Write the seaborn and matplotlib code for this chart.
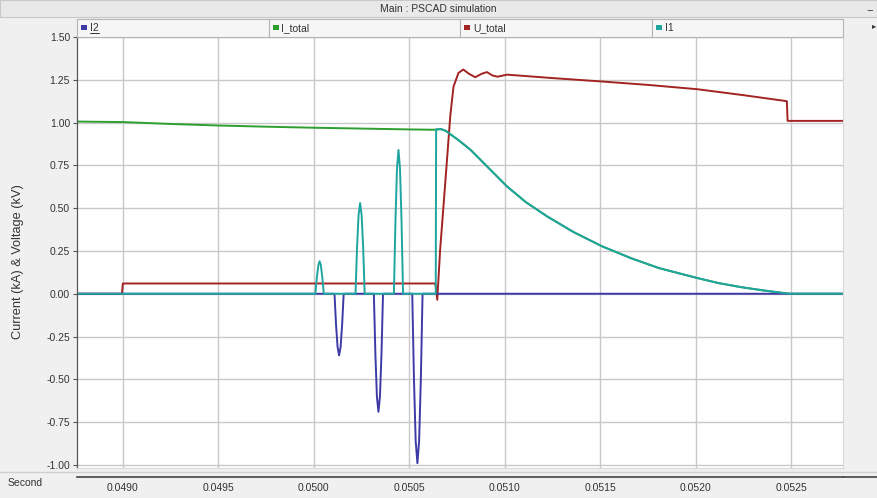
import matplotlib
matplotlib.use('Agg')
import matplotlib.pyplot as plt
import seaborn as sns
from matplotlib.patches import Rectangle
from matplotlib.lines import Line2D

# Dados (tempo em s, corrente em kA, tensão em kV)
t_decay = [0.050640, 0.050665, 0.050690, 0.050705, 0.050760, 0.050819, 0.050910,
           0.051011, 0.051110, 0.051221, 0.051360, 0.051509, 0.051660, 0.051806,
           0.052007, 0.052120, 0.052234, 0.052350, 0.052461, 0.052490]
v_decay = [0.960, 0.962, 0.952, 0.940, 0.895, 0.842, 0.740, 0.627, 0.535, 0.452,
           0.360, 0.277, 0.208, 0.150, 0.092, 0.062, 0.039, 0.020, 0.004, 0.0]

t_i1 = [0.04876, 0.050008, 0.050016, 0.050024, 0.050030, 0.050036, 0.050044, 0.050052,
        0.050218, 0.050226, 0.050234, 0.050242, 0.050250, 0.050258, 0.050266,
        0.050419, 0.050427, 0.050435, 0.050443, 0.050451, 0.050459, 0.050467,
        0.050638]
i1 = [0, 0, 0.10, 0.17, 0.19, 0.17, 0.10, 0,
      0, 0.27, 0.46, 0.53, 0.46, 0.27, 0,
      0, 0.42, 0.73, 0.84, 0.73, 0.42, 0,
      0]

t_itotal = [0.04876, 0.04900, 0.04925, 0.04950, 0.04975, 0.05000, 0.05025, 0.05050, 0.050638]
i_total = [1.006, 1.003, 0.992, 0.983, 0.976, 0.970, 0.965, 0.960, 0.958]

t_i2 = [0.04876, 0.050108, 0.050116, 0.050124, 0.050132, 0.050140, 0.050148, 0.050156,
        0.050314, 0.050322, 0.050330, 0.050338, 0.050346, 0.050354, 0.050362,
        0.050515, 0.050524, 0.050533, 0.050542, 0.050551, 0.050560, 0.050569,
        0.05277]
i2 = [0, 0, -0.18, -0.31, -0.36, -0.31, -0.18, 0,
      0, -0.35, -0.60, -0.69, -0.60, -0.35, 0,
      0, -0.50, -0.86, -0.99, -0.86, -0.50, 0,
      0]

t_u = [0.04876, 0.048995, 0.04900, 0.050636, 0.050646, 0.050661, 0.050688, 0.050714,
       0.050731, 0.050757, 0.050782, 0.050812, 0.050845, 0.050878, 0.050906, 0.050935,
       0.050962, 0.051011, 0.051250, 0.051509, 0.051750, 0.052007, 0.052250, 0.052476,
       0.052480, 0.05277]
u_total = [0, 0, 0.06, 0.06, -0.035, 0.257, 0.65, 1.037,
           1.21, 1.29, 1.31, 1.285, 1.265, 1.285, 1.295, 1.275,
           1.268, 1.28, 1.26, 1.24, 1.22, 1.195, 1.16, 1.125,
           1.01, 1.01]

t_tail = [0.05277]
v_tail = [0.0]

nomes = ['I2', 'I_total', 'U_total', 'I1']
cores = {'I2': '#3d3aa6', 'I_total': '#2e9e2e', 'U_total': '#a32222', 'I1': '#1fa5a0'}
yticks = [-1.00, -0.75, -0.50, -0.25, 0.00, 0.25, 0.50, 0.75, 1.00, 1.25, 1.50]
xticks = [0.0490, 0.0495, 0.0500, 0.0505, 0.0510, 0.0515, 0.0520, 0.0525]

# Estilo
sns.set_theme(style="whitegrid")
plt.rcParams['font.family'] = ['Liberation Sans', 'DejaVu Sans']

W, H = 877, 498
fig = plt.figure(figsize=(W / 100, H / 100), dpi=100)
fig.patch.set_facecolor('#f0f0f0')


def fx(x):
    return x / W


def fy(y):
    return 1 - y / H


# Eixo principal
L, R, T, B = 77, 843, 37, 468
ax = fig.add_axes([fx(L), fy(B), fx(R - L), fy(T) - fy(B)])
ax.set_facecolor('white')

sns.lineplot(x=t_itotal + t_decay + t_tail, y=i_total + v_decay + v_tail, ax=ax,
             color=cores['I_total'], lw=1.4, estimator=None, sort=False)
sns.lineplot(x=t_u, y=u_total, ax=ax, color=cores['U_total'], lw=1.4,
             estimator=None, sort=False)
sns.lineplot(x=t_i2, y=i2, ax=ax, color=cores['I2'], lw=1.4,
             estimator=None, sort=False)
sns.lineplot(x=t_i1 + t_decay + t_tail, y=i1 + v_decay + v_tail, ax=ax,
             color=cores['I1'], lw=1.4, estimator=None, sort=False)

ax.set_xlim(0.04876, 0.05277)
ax.set_ylim(-1.018, 1.5)
ax.set_xticks(xticks)
ax.set_yticks(yticks)
ax.set_yticklabels([f'{v:.2f}' for v in yticks], fontsize=7.5, color='#333333')
ax.tick_params(axis='x', labelbottom=False, length=0)
ax.tick_params(axis='y', length=3, width=0.8, color='#555555', pad=2, left=True)
ax.grid(True, color='#c8c8c8', lw=1)
for lado in ['top', 'right', 'bottom']:
    ax.spines[lado].set_color('#d8d8d8')
    ax.spines[lado].set_linewidth(0.8)
ax.spines['left'].set_color('#555555')
ax.spines['left'].set_linewidth(0.9)
ax.set_xlabel('')
ax.set_ylabel('Current (kA) & Voltage (kV)', fontsize=9.2, color='#333333')
ax.yaxis.set_label_coords((24 - L) / (R - L), (B - 262) / (B - T))

# Eixo do tempo (faixa inferior)
ax2 = fig.add_axes([fx(L), fy(477), fx(R - L), 0.001])
ax2.set_facecolor('none')
ax2.set_xlim(ax.get_xlim())
ax2.set_xticks(xticks)
ax2.set_xticklabels([f'{v:.4f}' for v in xticks], fontsize=7.5, color='#333333')
ax2.set_yticks([])
ax2.grid(False)
for lado in ['top', 'right', 'left']:
    ax2.spines[lado].set_visible(False)
ax2.spines['bottom'].set_color('#444444')
ax2.spines['bottom'].set_linewidth(1.2)
ax2.tick_params(axis='x', length=3, width=0.8, color='#444444', pad=3, direction='inout')
fig.add_artist(Line2D([fx(R), 1], [fy(477), fy(477)], color='#444444', lw=1.2))
fig.add_artist(Line2D([0, 1], [fy(472), fy(472)], color='#d0d0d0', lw=1))
fig.text(fx(8), fy(483), 'Second', fontsize=7.5, color='#333333', va='center', ha='left')

# Barra de título
fig.add_artist(Rectangle((0, fy(17)), 1, fy(0) - fy(17), transform=fig.transFigure,
                         facecolor='#e9e9e9', edgecolor='#c8c8c8', lw=0.8))
fig.text(0.5, fy(9), 'Main : PSCAD simulation', fontsize=7.5, color='#333333',
         ha='center', va='center')
fig.text(fx(870), fy(10), '−', fontsize=8, color='#333333', ha='center', va='center')
fig.text(fx(874), fy(26), '▸', fontsize=6, color='#333333', ha='center', va='center',
         family=['DejaVu Sans'])

# Legenda em células
larg = (R - L) / 4
for k, nome in enumerate(nomes):
    x0 = L + k * larg
    fig.add_artist(Rectangle((fx(x0), fy(37)), fx(larg), fy(19) - fy(37),
                             transform=fig.transFigure, facecolor='#f6f6f6',
                             edgecolor='#b4b4b4', lw=0.8))
    fig.add_artist(Rectangle((fx(x0 + 4), fy(30)), fx(6), fy(25) - fy(30),
                             transform=fig.transFigure, facecolor=cores[nome],
                             edgecolor='none'))
    fig.text(fx(x0 + 13), fy(28), nome, fontsize=7.5, color='#333333',
             ha='left', va='center')
# a primeira entrada aparece sublinhada no original
fig.add_artist(Line2D([fx(L + 13), fx(L + 22)], [fy(33), fy(33)], color='#333333', lw=0.7))

plt.savefig('out.png', dpi=100, facecolor=fig.get_facecolor())
